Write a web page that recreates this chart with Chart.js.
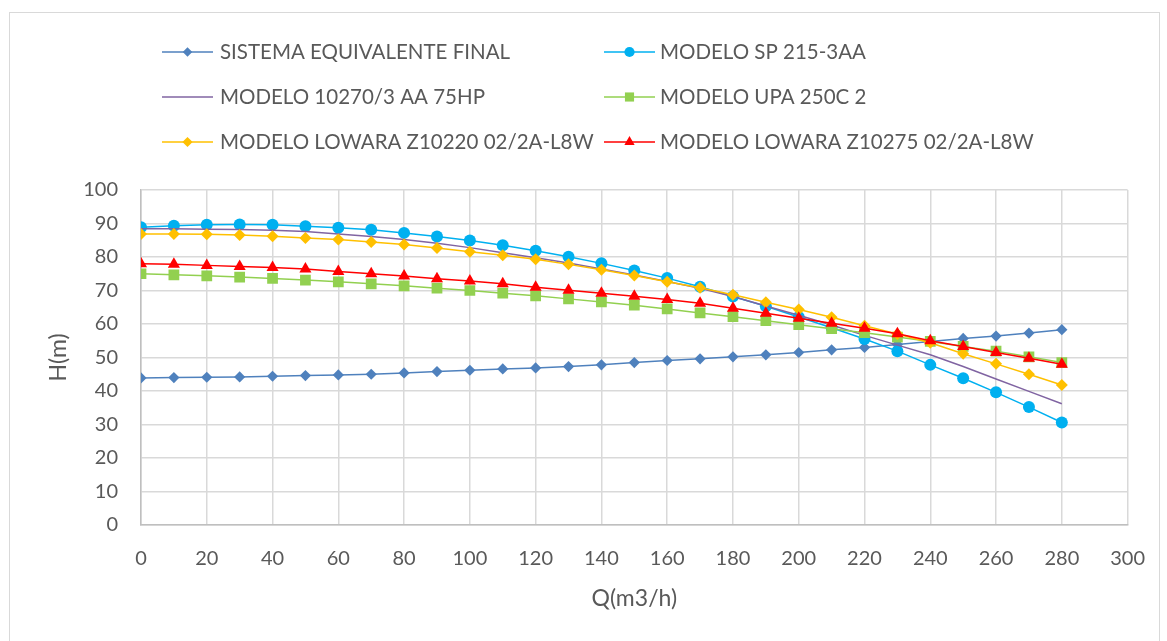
<!DOCTYPE html>
<html>
<head>
<meta charset="utf-8">
<script src="https://cdn.jsdelivr.net/npm/chart.js@4.4.1/dist/chart.umd.min.js"></script>
<style>
  html, body { margin: 0; padding: 0; background: #ffffff; }
  #wrap { position: absolute; left: 0; top: 0; width: 1167px; height: 641px; }
  #frame { position: absolute; left: 9px; top: 12px; width: 1151px; height: 640px; border: 1px solid #d9d9d9; box-sizing: border-box; pointer-events: none; }
</style>
</head>
<body>
<div id="wrap"><canvas id="c" width="1167" height="641"></canvas></div>
<div id="frame"></div>
<script>
// ---- data ----
const flow = [0, 10, 20, 30, 40, 50, 60, 70, 80, 90, 100, 110, 120, 130, 140, 150, 160, 170, 180, 190, 200, 210, 220, 230, 240, 250, 260, 270, 280];

const sistemaEquivalente = [43.9, 44.0, 44.1, 44.2, 44.4, 44.6, 44.8, 45.0, 45.4, 45.8, 46.2, 46.6, 46.9, 47.3, 47.8, 48.5, 49.1, 49.6, 50.2, 50.8, 51.5, 52.3, 53.0, 53.9, 54.8, 55.7, 56.4, 57.3, 58.3];
const modeloSP = [88.9, 89.3, 89.6, 89.7, 89.6, 89.2, 88.7, 88.1, 87.2, 86.1, 84.9, 83.5, 81.9, 80.1, 78.1, 76.0, 73.7, 71.1, 68.2, 65.3, 62.1, 58.9, 55.5, 51.9, 47.8, 43.8, 39.6, 35.2, 30.6];
const modelo10270 = [88.4, 88.4, 88.3, 88.2, 88.0, 87.6, 86.9, 86.1, 85.2, 84.1, 82.8, 81.3, 79.8, 78.2, 76.4, 74.6, 72.7, 70.7, 68.2, 65.4, 62.6, 59.7, 56.6, 53.7, 50.8, 47.3, 43.6, 39.9, 36.2];
const modeloUPA = [75.0, 74.7, 74.4, 74.0, 73.6, 73.1, 72.6, 72.0, 71.4, 70.7, 70.0, 69.2, 68.4, 67.5, 66.6, 65.6, 64.5, 63.3, 62.2, 61.0, 59.8, 58.6, 57.4, 56.1, 54.8, 53.3, 51.9, 50.2, 48.5];
const modeloZ10220 = [86.9, 86.9, 86.8, 86.6, 86.2, 85.7, 85.2, 84.5, 83.7, 82.7, 81.6, 80.5, 79.3, 77.8, 76.2, 74.5, 72.6, 70.8, 68.7, 66.5, 64.3, 62.0, 59.5, 57.0, 54.4, 51.1, 48.1, 45.0, 41.8];
const modeloZ10275 = [78.0, 77.8, 77.5, 77.2, 76.9, 76.4, 75.7, 75.0, 74.3, 73.5, 72.8, 72.0, 71.0, 70.1, 69.2, 68.3, 67.3, 66.2, 64.7, 63.2, 61.7, 60.2, 58.7, 57.1, 55.0, 53.3, 51.5, 49.8, 48.0];

const seriesNames = [
  'SISTEMA EQUIVALENTE FINAL',
  'MODELO SP 215-3AA',
  'MODELO 10270/3 AA 75HP',
  'MODELO UPA 250C 2',
  'MODELO LOWARA Z10220 02/2A-L8W',
  'MODELO LOWARA Z10275 02/2A-L8W'
];
const seriesValues = [sistemaEquivalente, modeloSP, modelo10270, modeloUPA, modeloZ10220, modeloZ10275];
const seriesColors = ['#4f81bd', '#00b0f0', '#8064a2', '#92d050', '#ffc000', '#ff0000'];
const seriesPoints = ['rectRot', 'circle', false, 'rect', 'rectRot', 'triangle'];
const seriesRadius = [5.6, 6, 0, 7.6, 6, 7];

const xTicksStep = 20, xMin = 0, xMax = 300;
const yTicksStep = 10, yMin = 0, yMax = 100;

const TXT = '#595959';
const FONT = 'Lato';

const datasets = seriesNames.map((name, i) => ({
  label: name,
  data: flow.map((q, k) => ({ x: q, y: seriesValues[i][k] })),
  borderColor: seriesColors[i],
  backgroundColor: seriesColors[i],
  borderWidth: 1.5,
  pointStyle: seriesPoints[i] || 'circle',
  pointRadius: seriesRadius[i],
  pointHoverRadius: seriesRadius[i],
  pointBorderWidth: 0,
  pointBorderColor: seriesColors[i],
  pointBackgroundColor: seriesColors[i],
  tension: 0,
  fill: false,
  order: seriesNames.length - i
}));

const gridLegend = {
  id: 'gridLegend',
  afterDraw(chart) {
    const ctx = chart.ctx;
    const colLine = [[162, 213], [604, 655]];
    const colText = [220, 660];
    const rowY = [52, 97, 142];
    ctx.save();
    ctx.font = '20.5px ' + FONT;
    ctx.textBaseline = 'middle';
    ctx.textAlign = 'left';
    chart.data.datasets.forEach((ds, i) => {
      const col = i % 2, row = Math.floor(i / 2);
      const y = rowY[row];
      const [x1, x2] = colLine[col];
      ctx.strokeStyle = ds.borderColor;
      ctx.lineWidth = 1.5;
      ctx.beginPath();
      ctx.moveTo(x1, y);
      ctx.lineTo(x2, y);
      ctx.stroke();
      if (ds.pointRadius > 0 && Chart.helpers && Chart.helpers.drawPoint) {
        ctx.fillStyle = ds.backgroundColor;
        ctx.strokeStyle = ds.borderColor;
        Chart.helpers.drawPoint(ctx, {
          pointStyle: ds.pointStyle,
          radius: ds.pointRadius * 0.85,
          rotation: 0,
          borderWidth: 0
        }, (x1 + x2) / 2, y);
      }
      ctx.fillStyle = TXT;
      ctx.fillText(ds.label, colText[col], y);
    });
    ctx.restore();
  }
};

new Chart(document.getElementById('c'), {
  type: 'line',
  data: { datasets },
  plugins: [gridLegend],
  options: {
    responsive: false,
    animation: false,
    events: [],
    layout: { padding: { left: 0, right: 33, top: 190, bottom: 0 } },
    plugins: {
      legend: { display: false },
      tooltip: { enabled: false },
      title: { display: false }
    },
    scales: {
      x: {
        type: 'linear',
        min: xMin, max: xMax,
        ticks: { stepSize: xTicksStep, color: TXT, font: { family: FONT, size: 20 }, padding: 22, maxRotation: 0 },
        grid: { color: '#d9d9d9', lineWidth: 1.5, drawTicks: false },
        border: { color: '#bfbfbf', width: 1.5 },
        title: { display: true, text: 'Q(m3/h)', color: TXT, font: { family: FONT, size: 23 }, padding: { top: 0, bottom: 29 } },
        afterFit(s) { s.height = 116; }
      },
      y: {
        min: yMin, max: yMax,
        ticks: { stepSize: yTicksStep, color: TXT, font: { family: FONT, size: 20 }, padding: 23 },
        grid: { color: '#d9d9d9', lineWidth: 1.5, drawTicks: false },
        border: { color: '#bfbfbf', width: 1.5 },
        title: { display: true, text: 'H(m)', color: TXT, font: { family: FONT, size: 23 }, padding: { top: 45, bottom: 0 } },
        afterFit(s) { s.width = 141; }
      }
    }
  }
});
</script>
</body>
</html>
